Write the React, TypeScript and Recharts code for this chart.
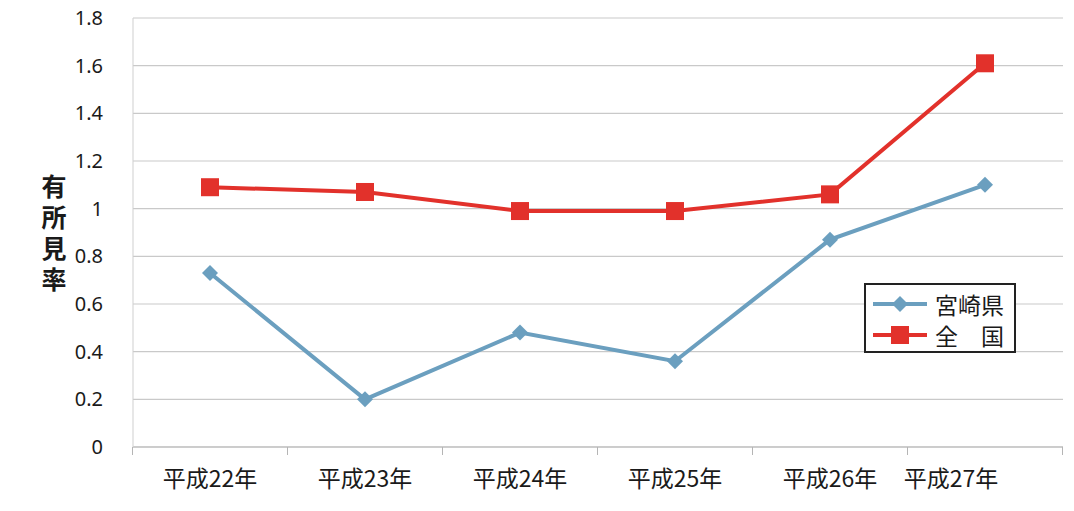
import React from "react";
import { LineChart, Line, XAxis, YAxis, CartesianGrid, Legend } from "recharts";

const categories = ["平成22年", "平成23年", "平成24年", "平成25年", "平成26年", "平成27年"];
const miyazaki = [0.73, 0.2, 0.48, 0.36, 0.87, 1.1];
const zenkoku = [1.09, 1.07, 0.99, 0.99, 1.06, 1.61];
const yTicks = [0, 0.2, 0.4, 0.6, 0.8, 1, 1.2, 1.4, 1.6, 1.8];
const seriesNames = ["宮崎県", "全　国"];
const yLabelText = "有所見率";

const data = categories.map((c, i) => ({ name: c, a: miyazaki[i], b: zenkoku[i] }));

const BLUE = "#6b9fbf";
const RED = "#e2312b";
const JP = "'Noto Sans CJK JP', 'Noto Sans', sans-serif";

const Diamond = (props: any) => {
  const { cx, cy } = props;
  if (cx == null || cy == null) return null;
  const r = 8;
  return <path d={`M${cx},${cy - r}L${cx + r},${cy}L${cx},${cy + r}L${cx - r},${cy}Z`} fill={BLUE} />;
};

const Square = (props: any) => {
  const { cx, cy } = props;
  if (cx == null || cy == null) return null;
  const s = 9;
  return <rect x={cx - s} y={cy - s} width={s * 2} height={s * 2} fill={RED} />;
};

const XTick = (props: any) => {
  const { x, y, payload, index } = props;
  const shift = index === categories.length - 1 ? -34 : 0;
  return (
    <g>
      <line x1={x - 77.5} y1={447} x2={x - 77.5} y2={455} stroke="#b5b5b5" />
      {index === categories.length - 1 && <line x1={x + 77.5} y1={447} x2={x + 77.5} y2={455} stroke="#b5b5b5" />}
      <text x={x + shift} y={y + 32} textAnchor="middle" fontFamily={JP} fontSize={23} fill="#1a1a1a">
        {payload.value}
      </text>
    </g>
  );
};

const YLabel = () => {
  return (
    <text
      x={54}
      y={174}
      fontFamily={JP}
      fontSize={25}
      fontWeight={700}
      fill="#1a1a1a"
      letterSpacing={6}
      style={{ writingMode: "vertical-rl" as any }}
    >
      {yLabelText}
    </text>
  );
};

const LegendContent = () => (
  <div style={{ border: "2px solid #222", background: "#fff", width: 152, height: 70, boxSizing: "border-box", padding: "3px 0 0 5px", fontFamily: JP }}>
    {[BLUE, RED].map((col, i) => (
      <div key={i} style={{ display: "flex", alignItems: "center", height: 31 }}>
        <svg width={58} height={22}>
          <line x1={2} y1={11} x2={56} y2={11} stroke={col} strokeWidth={4} />
          {i === 0 ? (
            <path d="M29,3L37,11L29,19L21,11Z" fill={col} />
          ) : (
            <rect x={20} y={2} width={18} height={18} fill={col} />
          )}
        </svg>
        <span style={{ fontSize: 23, color: "#1a1a1a", marginLeft: 6, lineHeight: "28px" }}>{seriesNames[i]}</span>
      </div>
    ))}
  </div>
);

export default function App() {
  return (
    <div style={{ position: "absolute", left: 0, top: 0, width: 1074, height: 511, background: "#fff" }}>
      <LineChart width={1074} height={511} data={data} margin={{ top: 18, right: 11, left: 0, bottom: 0 }}>
        <CartesianGrid vertical={false} stroke="#c9c9c9" strokeWidth={1.2} />
        <XAxis
          dataKey="name"
          height={64}
          tick={<XTick />}
          tickLine={false}
          axisLine={{ stroke: "#b5b5b5" }}
          interval={0}
          padding={{ left: 77, right: 78 }}
        />
        <YAxis
          width={133}
          domain={[0, 1.8]}
          ticks={yTicks}
          tickLine={false}
          axisLine={{ stroke: "#cfcfcf" }}
          tickMargin={24}
          tick={{ fontSize: 20, fill: "#1a1a1a", fontFamily: "'Noto Sans', sans-serif" }}
          label={<YLabel />}
        />
        <Legend
          layout="horizontal"
          verticalAlign="middle"
          align="center"
          content={<LegendContent />}
          wrapperStyle={{ left: 864, top: 283, width: 152 }}
        />
        <Line dataKey="a" name={seriesNames[0]} stroke={BLUE} strokeWidth={4} dot={<Diamond />} isAnimationActive={false} />
        <Line dataKey="b" name={seriesNames[1]} stroke={RED} strokeWidth={4} dot={<Square />} isAnimationActive={false} />
      </LineChart>
    </div>
  );
}
